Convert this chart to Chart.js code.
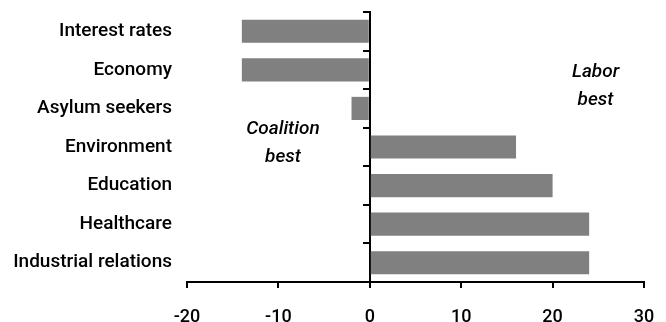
<!DOCTYPE html>
<html>
<head>
<meta charset="utf-8">
<script src="https://cdn.jsdelivr.net/npm/chart.js@4/dist/chart.umd.min.js"></script>
<style>
  html, body { margin: 0; padding: 0; background: #fff; }
  #wrap { width: 666px; height: 322px; position: relative; }
</style>
</head>
<body>
<div id="wrap"><canvas id="c" width="666" height="322"></canvas></div>
<script>
const categories = ["Interest rates", "Economy", "Asylum seekers", "Environment", "Education", "Healthcare", "Industrial relations"];
const netValues = [-14, -14, -2, 16, 20, 24, 24];
const xTicks = [-20, -10, 0, 10, 20, 30];
const noteLines = ["Coalition", "best", "Labor", "best"];
const noteX = [-9.5, -9.5, 24.7, 24.7];
const noteY = [2.55, 3.27, 1.05, 1.8];

const catFont = { family: "Roboto, 'Liberation Sans', sans-serif", size: 19, weight: "500" };
const tickFont = { family: "Roboto, 'Liberation Sans', sans-serif", size: 18, weight: "500" };

const notesPlugin = {
  id: "notes",
  afterDatasetsDraw(chart) {
    const { ctx, scales } = chart;
    ctx.save();
    ctx.fillStyle = "#000";
    ctx.font = "italic 500 19px Roboto, 'Liberation Sans', sans-serif";
    ctx.textAlign = "center";
    ctx.textBaseline = "middle";
    noteLines.forEach((t, i) => {
      ctx.fillText(t, scales.x.getPixelForValue(noteX[i]), scales.y.getPixelForValue(noteY[i]));
    });
    ctx.restore();
  }
};

new Chart(document.getElementById("c"), {
  type: "bar",
  data: {
    labels: categories,
    datasets: [{
      data: netValues,
      backgroundColor: "#808080",
      borderWidth: 0,
      barPercentage: 0.6,
      categoryPercentage: 1.0
    }]
  },
  options: {
    indexAxis: "y",
    responsive: false,
    animation: false,
    devicePixelRatio: 1,
    layout: { padding: { left: 11, right: 22, top: 12, bottom: 0 } },
    plugins: { legend: { display: false }, tooltip: { enabled: false } },
    scales: {
      x: {
        type: "linear",
        position: "bottom",
        min: xTicks[0],
        max: xTicks[xTicks.length - 1],
        afterBuildTicks: (s) => { s.ticks = xTicks.map(v => ({ value: v })); },
        border: { display: true, color: "#000", width: 2 },
        grid: { display: true, drawOnChartArea: false, drawTicks: true, tickLength: 6, color: "#000", lineWidth: 2 },
        ticks: { color: "#000", font: tickFont, padding: 19 },
        afterFit: (s) => { s.height = 40; s.paddingLeft = 0; s.paddingRight = 0; }
      },
      y: {
        type: "category",
        position: "left",
        border: { display: false },
        grid: { display: false, drawTicks: false },
        ticks: { color: "#000", font: catFont, padding: 15 },
        afterFit: (s) => { s.width = 176; s.paddingTop = 0; s.paddingBottom = 0; }
      },
      y2: {
        type: "category",
        axis: "y",
        labels: categories,
        position: { x: 0 },
        offset: true,
        border: { display: true, color: "#000", width: 2 },
        grid: { display: true, offset: true, drawOnChartArea: false, drawTicks: true, tickLength: 6, color: "#000", lineWidth: 2 },
        ticks: { display: false }
      }
    }
  },
  plugins: [notesPlugin]
});
</script>
</body>
</html>
